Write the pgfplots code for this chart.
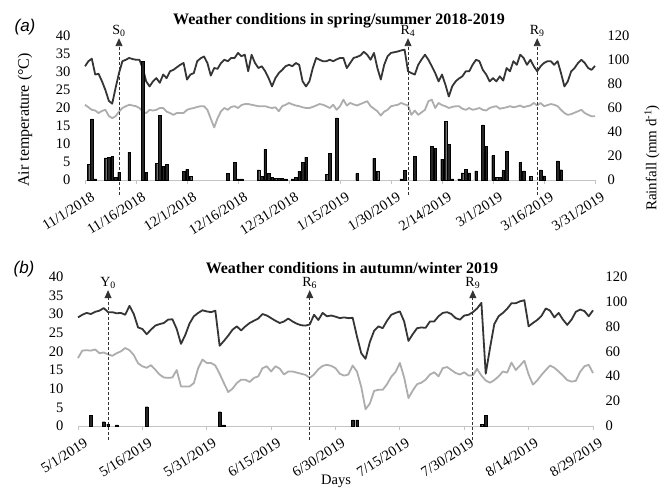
\documentclass[border=0pt]{standalone}
\usepackage{pgfplots}
\pgfplotsset{compat=1.18}
\usepackage{fontspec}
\setmainfont{Liberation Serif}
\newfontfamily\arialfont{Liberation Sans}
\usetikzlibrary{arrows.meta}
\definecolor{tmaxc}{HTML}{353535}
\definecolor{tminc}{HTML}{ADADAD}
\definecolor{axc}{HTML}{C4C4C4}
\definecolor{dashc}{HTML}{333333}
\tikzset{
  marklab/.style={font=\fontsize{14}{16}\selectfont, inner sep=1pt, above, text=black},
  tickfont/.style={font=\fontsize{14.5}{16}\selectfont},
}
\pgfplotsset{
  leftax/.style={
    scale only axis, clip=false,
    axis x line*=bottom, axis y line*=left,
    y axis line style={draw=none},
    x axis line style={draw=axc, line width=0.9pt},
    ymin=0, ymax=40, ytick={0,5,...,40},
    ytick style={draw=none},
    xtick style={draw=axc, line width=0.8pt},
    tick align=outside, major tick length=4pt,
    /pgf/number format/assume math mode=true,
    yticklabel style={tickfont, xshift=-7pt},
    xticklabel style={tickfont, rotate=32, anchor=north east, xshift=4pt, yshift=-6pt},
  },
  rightax/.style={
    scale only axis, clip=false,
    axis y line*=right, axis x line=none,
    y axis line style={draw=none},
    ytick style={draw=none},
    ymin=0, ymax=120, ytick={0,20,...,120},
    /pgf/number format/assume math mode=true,
    yticklabel style={tickfont, xshift=9pt},
  },
  tmax/.style={color=tmaxc, line width=1.8pt, no markers, line join=round},
  tmin/.style={color=tminc, line width=1.8pt, no markers, line join=round},
  rain/.style={ybar, bar width=2.6pt, fill=black!85, draw=black, line width=0.3pt},
  annot/.style={dashc, densely dashed, line width=0.9pt, no markers, -{Triangle[width=7pt,length=8pt]}},
}
\begin{document}
\begin{tikzpicture}
\path[use as bounding box] (0,0) rectangle (661pt,-488pt);
% ---------------- Panel (a) ----------------
\begin{axis}[leftax, at={(85pt,-180pt)}, anchor=south west, width=510pt, height=144pt,
  xmin=0, xmax=150, xtick={0,15,...,150},
  xticklabels={11/1/2018,11/16/2018,12/1/2018,12/16/2018,12/31/2018,1/15/2019,1/30/2019,2/14/2019,3/1/2019,3/16/2019,3/31/2019}]
\addplot[tmin] coordinates {(0,20.9)(1,20.2)(2,19.5)(3,19.3)(4,18.6)(5,19.2)(6,19.5)(7,17.8)(8,17.2)(9,17.7)(10,19)(11,20)(12,20.5)(13,20.9)(14,20.7)(15,20.5)(16,20)(17,19)(18,18.6)(19,19.5)(20,19.3)(21,19.5)(22,20)(23,20)(24,19)(25,18.6)(26,18.1)(27,18.6)(28,18.6)(29,18.6)(30,19.5)(31,19.8)(32,20)(33,20.3)(34,20.5)(35,20.5)(36,19.5)(37,17)(38,14.6)(39,17.2)(40,19.1)(41,20)(42,19.5)(43,20.3)(44,20.5)(45,20)(46,20.8)(47,21.1)(48,21.1)(49,20.9)(50,20.7)(51,20.5)(52,20.5)(53,20.5)(54,20.2)(55,20)(56,20.2)(57,19.1)(58,20.5)(59,20.9)(60,21.4)(61,21)(62,20.7)(63,20.5)(64,20.2)(65,20)(66,20)(67,20.3)(68,20.7)(69,21.1)(70,20.9)(71,20.5)(72,20)(73,20.9)(74,19.5)(75,20.5)(76,22.3)(77,20.7)(78,21.4)(79,21)(80,20.7)(81,21.1)(82,21.5)(83,21.9)(84,20.5)(85,19.8)(86,19.1)(87,17.9)(88,19)(89,19.5)(90,20.5)(91,20.7)(92,20.9)(93,21.4)(94,21)(95,20.7)(96,18.1)(97,19.3)(98,18.1)(99,18.8)(100,19.5)(101,21.9)(102,22.3)(103,20)(104,21.4)(105,20.8)(106,20.5)(107,20)(108,20.3)(109,20.5)(110,20.5)(111,19.8)(112,19.5)(113,20)(114,19.5)(115,19.7)(116,20)(117,19.5)(118,19.3)(119,20)(120,20.3)(121,20.5)(122,19.8)(123,20)(124,20.2)(125,20.5)(126,20.2)(127,20.4)(128,20.7)(129,20.2)(130,20.5)(131,20.7)(132,21.4)(133,20.7)(134,21.4)(135,20.5)(136,20.8)(137,21.1)(138,20.9)(139,20.5)(140,19.5)(141,18.6)(142,18.1)(143,18.3)(144,18.7)(145,19.1)(146,19.5)(147,18.6)(148,18.1)(149,17.7)(150,17.7)};
\addplot[tmax] coordinates {(0,31.6)(1,33)(2,33.7)(3,29.3)(4,29.5)(5,27.4)(6,25)(7,22)(8,21.2)(9,25.6)(10,29.7)(11,33)(12,33.4)(13,33.9)(14,33.6)(15,33.4)(16,33.4)(17,31)(18,27.4)(19,26)(20,27.4)(21,28.3)(22,27)(23,29.3)(24,28.3)(25,30.2)(26,30.6)(27,31.3)(28,32)(29,32.5)(30,27.9)(31,29.3)(32,29.7)(33,33)(34,33.8)(35,34.3)(36,32.5)(37,29)(38,31.1)(39,30.9)(40,32.5)(41,33.4)(42,33)(43,33.9)(44,33.9)(45,35.3)(46,34.4)(47,34.8)(48,30.2)(49,34.8)(50,32.5)(51,31.1)(52,31.6)(53,30.2)(54,28.3)(55,26)(56,28.3)(57,29.7)(58,30.6)(59,31.6)(60,32)(61,31.6)(62,32.5)(63,32)(64,27.4)(65,26)(66,27.4)(67,31.1)(68,33.9)(69,33.4)(70,33)(71,33)(72,33.4)(73,33)(74,33.5)(75,33.9)(76,33.9)(77,31.1)(78,32.5)(79,33.9)(80,34.2)(81,34.6)(82,35.6)(83,34.8)(84,33.4)(85,35.3)(86,31.1)(87,27.9)(88,32)(89,34.4)(90,35.3)(91,35.5)(92,35.7)(93,36)(94,36.2)(95,30.2)(96,29.7)(97,29.3)(98,32)(99,33.5)(100,34.8)(101,33.4)(102,31.6)(103,29.7)(104,27.4)(105,29.3)(106,26.5)(107,23.2)(108,26)(109,27.4)(110,28.2)(111,28.8)(112,30.2)(113,30.2)(114,32)(115,33.4)(116,33)(117,30.6)(118,29.3)(119,27.4)(120,28.3)(121,27.4)(122,28.8)(123,27.6)(124,31.1)(125,30.2)(126,33)(127,32)(128,34.8)(129,33.9)(130,32)(131,33.4)(132,31.6)(133,30.2)(134,31.6)(135,32.5)(136,33)(137,33)(138,32)(139,33)(140,29.7)(141,26)(142,27.4)(143,30.2)(144,31.1)(145,32.5)(146,33.4)(147,32.5)(148,31.1)(149,30.6)(150,31.7)};
\addplot[annot] coordinates {(10,-4.2) (10,39.4)} node[pos=1, marklab] {S\textsubscript{0}};
\addplot[annot] coordinates {(95,-4.2) (95,39.4)} node[pos=1, marklab] {R\textsubscript{4}};
\addplot[annot] coordinates {(133,-4.2) (133,39.4)} node[pos=1, marklab] {R\textsubscript{9}};
\end{axis}
\begin{axis}[rightax, at={(85pt,-180pt)}, anchor=south west, width=510pt, height=144pt,
  xmin=0, xmax=150]
\addplot[rain] coordinates {(1,13)(2,51)(3,1)(6,18.5)(7,19)(8,19.5)(9,2)(10,6.5)(13,23)(17,99)(18,6.5)(21,14)(22,54)(23,11.5)(24,13)(29,7.5)(30,9)(31,3)(42,5.3)(44,15)(45,1)(46,1)(51,8.5)(52,3)(53,25.5)(54,5.5)(55,2)(56,1.5)(57,1.5)(58,1.5)(59,1)(61,1)(62,2.5)(63,7.5)(64,15)(65,19)(71,5)(72,22)(74,51.7)(80,5.5)(85,18)(86,7.5)(93,1)(94,8)(97,20)(102,28)(103,26.5)(105,17.5)(106,49)(107,30)(108,1)(110,1)(111,6)(112,9)(113,6)(115,7.7)(117,46)(118,28)(120,20.3)(121,2.5)(122,2.5)(123,7.8)(124,24)(128,14.5)(129,7.7)(131,3.2)(134,8.5)(135,3.4)(139,16)(140,8.6)};
\end{axis}
% ---------------- Panel (b) ----------------
\begin{axis}[leftax, at={(78pt,-426pt)}, anchor=south west, width=515pt, height=149.3pt,
  xmin=0, xmax=120, xtick={0,15,...,120},
  xticklabels={5/1/2019,5/16/2019,5/31/2019,6/15/2019,6/30/2019,7/15/2019,7/30/2019,8/14/2019,8/29/2019}]
\addplot[tmin] coordinates {(0,18.2)(1,20.2)(2,20.3)(3,20.2)(4,20.5)(5,19.5)(6,19.7)(7,19.2)(8,18.8)(9,19.5)(10,20)(11,20.9)(12,20.3)(13,19)(14,16.8)(15,16)(16,15.6)(17,16.3)(18,15.1)(19,13.8)(20,13)(21,12.9)(22,13)(23,15)(24,10.6)(25,10.6)(26,10.6)(27,11.5)(28,15.5)(29,17.8)(30,16.9)(31,16.9)(32,16.2)(33,14)(34,11.5)(35,9.1)(36,10)(37,11.5)(38,12.4)(39,12.4)(40,11.8)(41,12.9)(42,13.3)(43,15.5)(44,16)(45,14.6)(46,16)(47,15.4)(48,13.8)(49,14.6)(50,14.6)(51,14.3)(52,14)(53,13.7)(54,12.9)(55,13.8)(56,15.2)(57,16.1)(58,16.4)(59,16.1)(60,15.5)(61,14)(62,13.5)(63,13.8)(64,16.2)(65,14.6)(66,10.5)(67,4.5)(68,6)(69,9.4)(70,9.7)(71,9.7)(72,11.2)(73,13.2)(74,14.5)(75,16.9)(76,13)(77,7.5)(78,9.5)(79,11.2)(80,11.6)(81,12.4)(82,13.8)(83,14.4)(84,13.3)(85,15.5)(86,15.8)(87,15)(88,14.2)(89,13.8)(90,14.4)(91,13.5)(92,13.6)(93,15.3)(94,13.5)(95,12.2)(96,11.6)(97,12.3)(98,13.3)(99,14.6)(100,14.3)(101,17)(102,15)(103,16.2)(104,17.5)(105,13.8)(106,11.1)(107,12.2)(108,13.7)(109,15)(110,16.2)(111,15.6)(112,14.6)(113,13.5)(114,12.3)(115,11.9)(116,12.1)(117,14.5)(118,16)(119,16.4)(120,14.2)};
\addplot[tmax] coordinates {(0,29.1)(1,29.8)(2,30.3)(3,30)(4,30.6)(5,30.9)(6,31.6)(7,30.5)(8,30.5)(9,30.2)(10,30.3)(11,29.8)(12,32.2)(13,30)(14,26.4)(15,26)(16,24.6)(17,25.8)(18,26.9)(19,27.3)(20,27.6)(21,28.5)(22,28.6)(23,26)(24,22)(25,24.4)(26,27.5)(27,29.4)(28,30.3)(29,31)(30,30.7)(31,30.5)(32,30.9)(33,21.5)(34,22.8)(35,24.2)(36,25.8)(37,26.7)(38,25.6)(39,26.7)(40,27.6)(41,28.2)(42,28.8)(43,30)(44,29.6)(45,28.9)(46,28.2)(47,27.6)(48,28)(49,28.8)(50,28)(51,27.4)(52,27)(53,26.9)(54,27.2)(55,29.8)(56,28.4)(57,30.3)(58,29.4)(59,29.6)(60,29.3)(61,28.9)(62,29.1)(63,28.9)(64,29)(65,24)(66,19.5)(67,18)(68,22.5)(69,25.5)(70,26.7)(71,26.2)(72,28.2)(73,29.8)(74,30.3)(75,30.7)(76,28)(77,22.8)(78,24.6)(79,26.2)(80,26.4)(81,26.3)(82,28)(83,28)(84,29.4)(85,30.3)(86,30.5)(87,30)(88,28.9)(89,28.5)(90,29.6)(91,29.8)(92,30.5)(93,31.5)(94,33)(95,14)(96,20.9)(97,27.3)(98,29.4)(99,30.3)(100,31.4)(101,32.9)(102,32.9)(103,33.4)(104,33.7)(105,26.7)(106,27.6)(107,28.4)(108,29.5)(109,31.5)(110,30.9)(111,29.1)(112,30.3)(113,28.5)(114,27.1)(115,28.5)(116,30.6)(117,31.2)(118,30.8)(119,29.4)(120,31)};
\addplot[annot] coordinates {(7,-3.8) (7,36.4)} node[pos=1, marklab] {Y\textsubscript{0}};
\addplot[annot] coordinates {(54,-3.8) (54,36.4)} node[pos=1, marklab] {R\textsubscript{6}};
\addplot[annot] coordinates {(92,-3.8) (92,36.4)} node[pos=1, marklab] {R\textsubscript{9}};
\end{axis}
\begin{axis}[rightax, at={(78pt,-426pt)}, anchor=south west, width=515pt, height=149.3pt,
  xmin=0, xmax=120]
\addplot[rain] coordinates {(3,8.5)(6,3.5)(7,1.5)(9,1)(16,15.5)(33,11.5)(34,1)(64,5)(65,5)(94,1.5)(95,8.5)};
\end{axis}
% ---------------- Texts ----------------
\node[font=\arialfont\itshape\fontsize{17}{19}\selectfont] at (25pt,-27pt) {(a)};
\node[font=\arialfont\itshape\fontsize{17}{19}\selectfont] at (24pt,-269pt) {(b)};
\node[font=\bfseries\fontsize{16}{18}\selectfont, anchor=base] at (339pt,-24pt) {Weather conditions in spring/summer 2018-2019};
\node[font=\bfseries\fontsize{16}{18}\selectfont, anchor=base] at (352pt,-273pt) {Weather conditions in autumn/winter 2019};
\node[font=\fontsize{16}{18}\selectfont, rotate=90] at (25pt,-120pt) {Air temperature (°C)};
\node[font=\fontsize{15}{17}\selectfont, rotate=90] at (652pt,-158pt) {Rainfall (mm d\textsuperscript{-1})};
\node[font=\fontsize{14.5}{16}\selectfont] at (336pt,-481pt) {Days};
\end{tikzpicture}
\end{document}
